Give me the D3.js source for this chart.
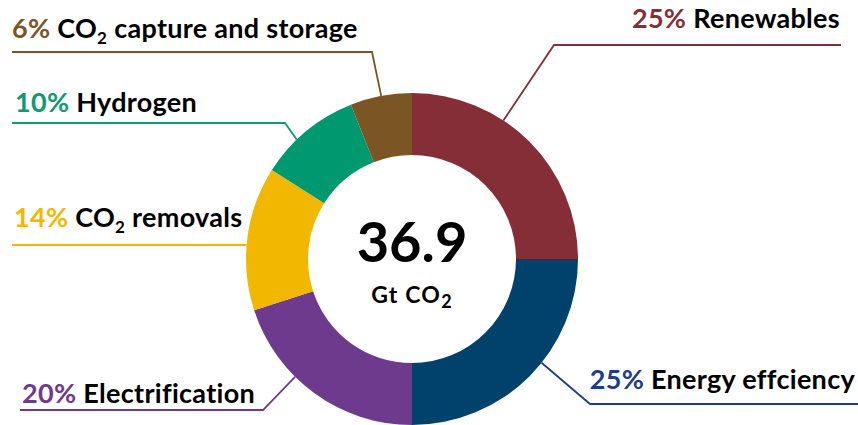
<!DOCTYPE html>
<html><head><meta charset="utf-8">
<script src="https://cdn.jsdelivr.net/npm/d3@7"></script>
<style>body{margin:0;background:#fff}svg{display:block}text{font-family:Lato,"Open Sans",sans-serif;font-weight:700}</style>
</head><body>
<svg id="c" width="858" height="425"></svg>
<script>
// Data
const categories = ["Renewables","Energy effciency","Electrification","CO2 removals","Hydrogen","CO2 capture and storage"];
const values = [25,25,20,14,10,6];
const percentLabels = ["25%","25%","20%","14%","10%","6%"];
const sliceColors = ["#862E37","#00426B","#6D3A8D","#F2B700","#00996F","#7B5524"];
const labelColors = ["#862E37","#1E3C8A","#6D3A8D","#F2B700","#0E9A72","#7B5524"];
const totalValue = "36.9";
const totalUnit = "Gt CO";

// Layout (label placement)
const cx = 412, cy = 259, rOuter = 166, rInner = 104;
const leaders = [
  {ang:33.4, elbow:[554,45], end:841, tx:840, ty:28, anchor:"end"},
  {ang:128.7, elbow:[590,404], end:858, tx:855, ty:389, anchor:"end"},
  {ang:224.8, elbow:[263,410], end:20, tx:22, ty:403, anchor:"start"},
  {ang:274.8, elbow:null, end:12, tx:14, ty:227, anchor:"start", y:245},
  {ang:316, elbow:[285,123], end:12, tx:15, ty:112, anchor:"start"},
  {ang:349.3, elbow:[372,52], end:12, tx:12, ty:38, anchor:"start"}
];

const svg = d3.select("#c");
const g = svg.append("g").attr("transform",`translate(${cx},${cy})`);
const pie = d3.pie().sort(null).value(d=>d)(values);
const arc = d3.arc().innerRadius(rInner).outerRadius(rOuter);
g.selectAll("path.s").data(pie).join("path").attr("class","s")
  .attr("d",arc).attr("fill",(d,i)=>sliceColors[i]);

// leader lines
pie.forEach((d,i)=>{
  const L = leaders[i];
  const a = L.ang*Math.PI/180;
  const sx = cx + rOuter*Math.sin(a), sy = cy - rOuter*Math.cos(a);
  let pts;
  if (L.elbow) pts = [[sx,sy],L.elbow,[L.end,L.elbow[1]]];
  else pts = [[sx,L.y],[L.end,L.y]];
  svg.append("path").attr("d",d3.line()(pts)).attr("fill","none")
    .attr("stroke",labelColors[i]).attr("stroke-width",1.8);
  const t = svg.append("text").attr("x",L.tx).attr("y",L.ty)
    .attr("text-anchor",L.anchor).attr("font-size",27).attr("letter-spacing",0.3);
  t.append("tspan").attr("fill",labelColors[i]).text(percentLabels[i]+" ");
  const name = categories[i];
  if (name.startsWith("CO2")) {
    t.append("tspan").attr("fill","#000").text("CO");
    t.append("tspan").attr("fill","#000").attr("font-size",17).attr("dy",6).text("2");
    t.append("tspan").attr("fill","#000").attr("dy",-6).text(name.slice(3));
  } else {
    t.append("tspan").attr("fill","#000").text(name);
  }
});

// center
svg.append("text").attr("x",cx).attr("y",262).attr("text-anchor","middle")
  .attr("font-size",56).attr("fill","#000").text(totalValue);
const u = svg.append("text").attr("x",cx).attr("y",303).attr("text-anchor","middle")
  .attr("font-size",23).attr("letter-spacing",1.2).attr("fill","#000");
u.append("tspan").text(totalUnit);
u.append("tspan").attr("font-size",18).attr("dy",5).text("2");
</script>
</body></html>
